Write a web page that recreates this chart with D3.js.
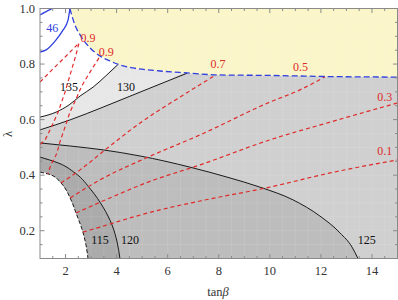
<!DOCTYPE html>
<html>
<head>
<meta charset="utf-8">
<script src="https://cdn.jsdelivr.net/npm/d3@7"></script>
<style>
  body { margin: 0; background: #fff; }
  text { font-family: "Liberation Serif", "DejaVu Serif", serif; }
</style>
</head>
<body>
<div id="chart"></div>
<script>
// contour lines, [tanBeta, lambda]
let yellowEdge = [[2.17,1.0],[2.37,0.94],[2.57,0.905],[2.96,0.858],[3.35,0.829],[3.74,0.811],[4.13,0.797],
                  [4.64,0.786],[5.7,0.775],[6.76,0.768],[7.93,0.761],[10.0,0.759],[12.35,0.755],[15,0.753]];
let c135 = [[1,0.609],[1.63,0.627],[2.14,0.653],[2.57,0.685],[3.08,0.717],[3.62,0.761],[4.05,0.798]];
let c130 = [[1,0.563],[2.18,0.599],[3.47,0.645],[4.92,0.699],[5.89,0.735],[6.76,0.767]];
let c125 = [[1,0.516],[2.18,0.505],[3.47,0.491],[4.92,0.469],[6.87,0.429],[8.44,0.39],[9.61,0.357],
            [10.91,0.311],[11.96,0.253],[12.75,0.192],[13.22,0.141],[13.45,0.1]];
let c120 = [[1,0.465],[1.71,0.444],[2.37,0.408],[3.0,0.347],[3.47,0.285],[3.82,0.221],[4.02,0.159],[4.13,0.1]];
let c115 = [[1,0.411],[1.43,0.401],[1.82,0.372],[2.18,0.318],[2.41,0.264],[2.68,0.195],[2.8,0.149],[2.88,0.1]];

let red01 = [[2.68,0.195],[3.35,0.213],[4.52,0.246],[5.7,0.275],[7.27,0.307],[10.0,0.357],[12.36,0.408],[15,0.455]];
let red03 = [[2.41,0.264],[3.74,0.318],[5.23,0.375],[7.27,0.437],[10.0,0.527],[12.36,0.591],[15,0.66]];
let red05 = [[2.18,0.318],[3.35,0.383],[5.23,0.465],[7.27,0.545],[10.0,0.663],[11.18,0.707],[12.16,0.754]];
let red07 = [[1.82,0.372],[2.57,0.419],[3.55,0.491],[4.92,0.588],[6.48,0.681],[7.89,0.761]];
let red09a = [[1,0.735],[1.47,0.779],[1.98,0.825],[2.53,0.876],[2.41,0.833],[2.21,0.771],[1.98,0.699],
              [1.71,0.627],[1.43,0.57],[1.2,0.527],[1,0.51]];
let red09b = [[3.31,0.822],[2.96,0.771],[2.64,0.721],[2.41,0.674],[2.18,0.627],[1.98,0.573],[1.78,0.519],
              [1.63,0.473],[1.43,0.437],[1.31,0.404]];
let blue46a = [[1,0.977],[1.2,0.987],[1.39,0.996],[1.47,1.0]];
let blue46b = [[1,0.843],[1.24,0.851],[1.63,0.887],[1.9,0.922],[2.1,0.959],[2.17,1.0]];

// labels: text, tanBeta, lambda
let blackLabels = [["135",2.14,0.717],["130",4.37,0.717],["115",3.35,0.167],["120",4.52,0.167],["125",13.8,0.167]];
let redLabels = [["0.9",2.88,0.894],["0.9",3.59,0.843],["0.7",7.97,0.8],["0.5",11.2,0.789],["0.3",14.5,0.681],["0.1",14.5,0.487]];
let blueLabels = [["46",1.48,0.93]];

let xTicks = [2, 4, 6, 8, 10, 12, 14];
let yTicks = [0.2, 0.4, 0.6, 0.8, 1.0];

let W = 398, H = 300;
let x = d3.scaleLinear().domain([1, 15]).range([40, 397.5]);
let y = d3.scaleLinear().domain([0.1, 1.0]).range([258.5, 8.5]);

let svg = d3.select("#chart").append("svg")
    .attr("width", W).attr("height", H);

svg.append("clipPath").attr("id", "clip")
    .append("rect")
    .attr("x", x(1)).attr("y", y(1))
    .attr("width", x(15) - x(1)).attr("height", y(0.1) - y(1));

let plot = svg.append("g").attr("clip-path", "url(#clip)");

let areaBelow = d3.area().curve(d3.curveMonotoneX)
    .x(d => x(d[0])).y0(y(0.1)).y1(d => y(d[1]));
let areaAbove = d3.area().curve(d3.curveMonotoneX)
    .x(d => x(d[0])).y0(y(1.0)).y1(d => y(d[1]));
let smooth = d3.line().curve(d3.curveMonotoneX).x(d => x(d[0])).y(d => y(d[1]));
let smoothY = d3.line().curve(d3.curveMonotoneY).x(d => x(d[0])).y(d => y(d[1]));
let straight = d3.line().x(d => x(d[0])).y(d => y(d[1]));

// shaded bands
let rightOf = (t) => yellowEdge.filter(d => d[0] > t + 0.05);
plot.append("path").datum(c135.concat(rightOf(4.05))).attr("d", areaBelow).attr("fill", "#e7e7e7");
plot.append("path").datum(c130.concat(rightOf(6.76))).attr("d", areaBelow).attr("fill", "#d0d0d0");
plot.append("path").datum(c125).attr("d", areaBelow).attr("fill", "#bdbdbd");
plot.append("path").datum(c120).attr("d", areaBelow).attr("fill", "#ababab");
plot.append("path").datum(c115).attr("d", areaBelow).attr("fill", "#ffffff");
plot.append("path").datum(yellowEdge).attr("d", areaAbove).attr("fill", "#faf6c9");

// faint mesh
let meshX = d3.range(1.5, 15, 0.5);
let meshY = d3.range(0.15, 1.0, 0.05);
plot.selectAll(".mx").data(meshX).enter().append("line")
    .attr("x1", d => x(d)).attr("x2", d => x(d)).attr("y1", y(0.1)).attr("y2", y(1))
    .attr("stroke", "#fff").attr("stroke-opacity", 0.1);
plot.selectAll(".my").data(meshY).enter().append("line")
    .attr("y1", d => y(d)).attr("y2", d => y(d)).attr("x1", x(1)).attr("x2", x(15))
    .attr("stroke", "#fff").attr("stroke-opacity", 0.1);

// black contours
[c135, c130, c125].forEach(c => {
    plot.append("path").datum(c).attr("d", smooth)
        .attr("fill", "none").attr("stroke", "#1a1a1a").attr("stroke-width", 1);
});
plot.append("path").datum(c120).attr("d", smoothY)
    .attr("fill", "none").attr("stroke", "#1a1a1a").attr("stroke-width", 1);
plot.append("path").datum(c115).attr("d", smoothY)
    .attr("fill", "none").attr("stroke", "#1a1a1a").attr("stroke-width", 1)
    .attr("stroke-dasharray", "4,2");

// red dashed
let red = "#e02a2a";
[red01, red03, red05, red07].forEach(c => {
    plot.append("path").datum(c).attr("d", smooth)
        .attr("fill", "none").attr("stroke", red).attr("stroke-width", 1.2)
        .attr("stroke-dasharray", "4,3");
});
plot.append("path").datum(red09b).attr("d", smoothY)
    .attr("fill", "none").attr("stroke", red).attr("stroke-width", 1.2)
    .attr("stroke-dasharray", "4,3");
plot.append("path").datum(red09a).attr("d", straight)
    .attr("fill", "none").attr("stroke", red).attr("stroke-width", 1.2)
    .attr("stroke-dasharray", "4,3");

// blue
plot.append("path").datum(yellowEdge).attr("d", smooth)
    .attr("fill", "none").attr("stroke", "#2f3fe0").attr("stroke-width", 1.3)
    .attr("stroke-dasharray", "6,3");
[blue46a, blue46b].forEach(c => {
    plot.append("path").datum(c).attr("d", smooth)
        .attr("fill", "none").attr("stroke", "#2f3fe0").attr("stroke-width", 1.3);
});

// contour labels
let addLabels = (arr, color) => {
    svg.selectAll(null).data(arr).enter().append("text")
        .attr("x", d => x(d[1])).attr("y", d => y(d[2]))
        .attr("text-anchor", "middle").attr("dominant-baseline", "central")
        .attr("font-size", 12).attr("fill", color)
        .text(d => d[0]);
};
addLabels(blackLabels, "#111");
addLabels(redLabels, red);
addLabels(blueLabels, "#2f3fe0");

// frame and ticks
let frame = "#8a8a8a";
let gx = svg.append("g");
gx.append("rect")
    .attr("x", x(1)).attr("y", y(1))
    .attr("width", x(15) - x(1)).attr("height", y(0.1) - y(1))
    .attr("fill", "none").attr("stroke", frame).attr("stroke-width", 1);

let xMinor = d3.range(1.5, 15, 0.5).filter(v => xTicks.indexOf(v) < 0);
let yMinor = d3.range(0.15, 1.0, 0.05).map(v => +v.toFixed(2)).filter(v => yTicks.indexOf(v) < 0);

let tick = (x1, y1, x2, y2) => gx.append("line")
    .attr("x1", x1).attr("y1", y1).attr("x2", x2).attr("y2", y2)
    .attr("stroke", frame).attr("stroke-width", 1);

xTicks.forEach(v => { tick(x(v), y(0.1), x(v), y(0.1) - 4.5); tick(x(v), y(1), x(v), y(1) + 4.5); });
xMinor.forEach(v => { tick(x(v), y(0.1), x(v), y(0.1) - 2.5); tick(x(v), y(1), x(v), y(1) + 2.5); });
yTicks.forEach(v => { tick(x(1), y(v), x(1) + 4.5, y(v)); tick(x(15), y(v), x(15) - 4.5, y(v)); });
yMinor.forEach(v => { tick(x(1), y(v), x(1) + 2.5, y(v)); tick(x(15), y(v), x(15) - 2.5, y(v)); });

gx.selectAll(".xl").data(xTicks).enter().append("text")
    .attr("x", d => x(d)).attr("y", 271)
    .attr("text-anchor", "middle").attr("dominant-baseline", "central")
    .attr("font-size", 12.5).attr("fill", "#333")
    .text(d => d);
gx.selectAll(".yl").data(yTicks).enter().append("text")
    .attr("x", 35).attr("y", d => y(d))
    .attr("text-anchor", "end").attr("dominant-baseline", "central")
    .attr("font-size", 12.5).attr("fill", "#333")
    .text(d => d.toFixed(1));

// axis titles
let xt = svg.append("text")
    .attr("x", 218).attr("y", 292)
    .attr("text-anchor", "middle").attr("dominant-baseline", "central")
    .attr("font-size", 12.5).attr("fill", "#333");
xt.append("tspan").text("tan");
xt.append("tspan").attr("font-style", "italic").text("β");

svg.append("text")
    .attr("transform", "translate(8,134) rotate(-90)")
    .attr("text-anchor", "middle").attr("dominant-baseline", "central")
    .attr("font-size", 12.5).attr("fill", "#333")
    .text("λ");
</script>
</body>
</html>
